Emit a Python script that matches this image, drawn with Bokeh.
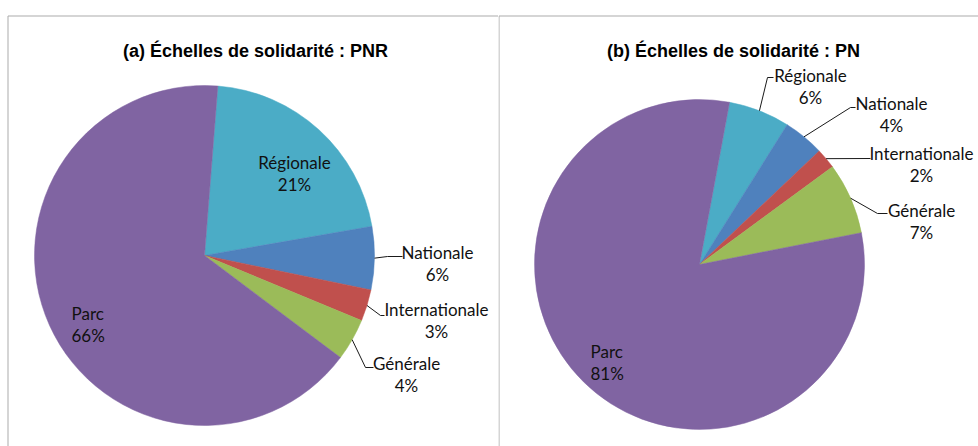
import numpy as np
from bokeh.plotting import figure
from bokeh.layouts import row
from bokeh.models import Range1d, ColumnDataSource
from bokeh.core.properties import value
from bokeh.embed import file_html
from bokeh.resources import INLINE

# ---- data ----
categories = ["Régionale", "Nationale", "Internationale", "Générale", "Parc"]
pnr_values = [21, 6, 3, 4, 66]
pn_values = [6, 4, 2, 7, 81]
titles = ["(a) Échelles de solidarité : PNR", "(b) Échelles de solidarité : PN"]
colors = ["#4BACC6", "#4F81BD", "#C0504D", "#9BBB59", "#8064A2"]

# ---- layout (page pixel coordinates) ----
H = 446
PAGE_BOTTOM = 446

left_layout = dict(
    width=498, x0=0, center=(204, 255), radius=170, offset=4.5, title_x=255,
    label_pos=[(294, 162), (437, 252), (436, 309), (406, 363), (71, 313)],
    label_align=["center", "center", "center", "center", "left"],
    leader_end={1: (402, 256, 15), 2: (384, 315, 4), 3: (373, 367, 8)},
    border_left=7.5,
)
right_layout = dict(
    width=480, x0=498, center=(699, 264), radius=165, offset=10.5, title_x=733,
    label_pos=[(810, 75), (891, 103), (921, 153), (921, 210), (590, 351)],
    label_align=["center", "center", "center", "center", "left"],
    leader_end={0: (773, 77, 6), 1: (855, 107, 5), 2: (870, 158, 0), 3: (887, 213, 10)},
    border_left=0.5,
)

LABEL_FONT = value("Lato")
LABEL_SIZE = "17px"
TEXT_COLOR = "#111111"
BORDER = "#ababab"


def make_panel(title, vals, L):
    w = L["width"]
    x0 = L["x0"]

    def lx(px):
        return px - x0

    def ly(py):
        return PAGE_BOTTOM - py

    p = figure(width=w, height=H, x_range=Range1d(0, w), y_range=Range1d(0, H),
               output_backend="svg", toolbar_location=None, min_border=0,
               x_axis_type=None, y_axis_type=None, outline_line_color=None)
    p.grid.visible = False

    # panel frame
    top = ly(15.5)
    p.segment(x0=[L["border_left"], L["border_left"]], y0=[0, top], x1=[L["border_left"], w], y1=[top, top],
              line_color=BORDER, line_width=1)

    # pie
    v = np.array(vals, dtype=float)
    frac = v / v.sum()
    cum = np.concatenate([[0], np.cumsum(frac)])
    off = L["offset"]
    start_deg = 90 - off - 360 * cum[:-1]
    end_deg = 90 - off - 360 * cum[1:]
    cx, cy = lx(L["center"][0]), ly(L["center"][1])
    src = ColumnDataSource(dict(
        x=[cx] * len(v), y=[cy] * len(v),
        start=np.radians(start_deg), end=np.radians(end_deg),
        color=colors, cat=categories,
    ))
    p.wedge(x="x", y="y", radius=L["radius"], start_angle="start", end_angle="end",
            direction="clock", fill_color="color", line_color="color", line_width=0.5,
            source=src)

    # leader lines: from slice mid-angle on the rim to the label
    mid_deg = off + 360 * (cum[:-1] + cum[1:]) / 2  # clockwise from top
    for i, (ex, ey, stub) in L["leader_end"].items():
        a = np.radians(mid_deg[i])
        sx = L["center"][0] + L["radius"] * np.sin(a)
        sy = L["center"][1] - L["radius"] * np.cos(a)
        xs = [lx(sx), lx(ex - stub), lx(ex)]
        ys = [ly(sy), ly(ey), ly(ey)]
        p.line(xs, ys, line_color="#1a1a1a", line_width=1)

    # labels
    for i, cat in enumerate(categories):
        px, py = L["label_pos"][i]
        align = L["label_align"][i]
        p.text(x=[lx(px)], y=[ly(py)], text=[cat], text_font=LABEL_FONT,
               text_font_size=LABEL_SIZE, text_align=align, text_baseline="middle",
               text_color=TEXT_COLOR)
        p.text(x=[lx(px)], y=[ly(py + 22)], text=[f"{vals[i]}%"], text_font=LABEL_FONT,
               text_font_size=LABEL_SIZE, text_align=align, text_baseline="middle",
               text_color=TEXT_COLOR)

    # title
    p.text(x=[lx(L["title_x"])], y=[ly(50)], text=[title], text_font=value("Liberation Sans"),
           text_font_size="18px", text_font_style="bold", text_align="center",
           text_baseline="alphabetic", text_color="#000000")
    return p


p1 = make_panel(titles[0], pnr_values, left_layout)
p2 = make_panel(titles[1], pn_values, right_layout)
layout = row(p1, p2, spacing=0)

open("out.html", "w").write(file_html(layout, INLINE))
